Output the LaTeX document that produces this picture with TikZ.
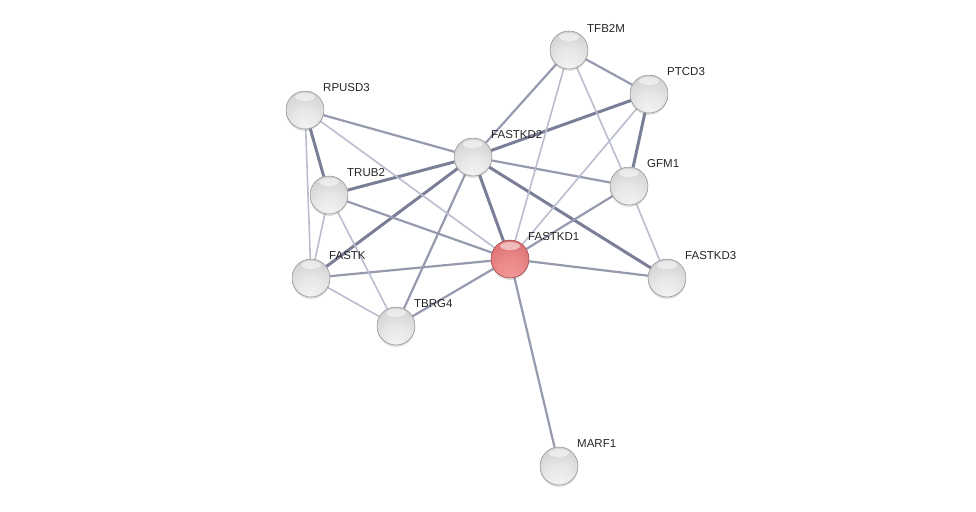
\documentclass[tikz,border=0pt]{standalone}
\usepackage{fontspec}
\setmainfont{Liberation Sans}
\usetikzlibrary{backgrounds,shadows}
\definecolor{EdgeDark}{RGB}{122,126,150}
\definecolor{EdgeMid}{RGB}{150,154,174}
\definecolor{EdgeLight}{RGB}{186,189,206}
\definecolor{RimGray}{RGB}{140,140,140}
\definecolor{RimRed}{RGB}{150,60,62}
\definecolor{RedLow}{RGB}{242,150,150}
\definecolor{RedMid}{RGB}{218,110,112}
\definecolor{RedTop}{RGB}{192,80,84}

\pgfdeclareradialshading{protball}{\pgfpoint{0bp}{-24bp}}{%
  color(0bp)=(gray!10); color(18bp)=(gray!18); color(40bp)=(gray!38);
  color(58bp)=(gray!46); color(80bp)=(gray!50)}
\pgfdeclareradialshading{queryball}{\pgfpoint{0bp}{-24bp}}{%
  color(0bp)=(RedLow); color(18bp)=(RedLow!70!RedMid); color(40bp)=(RedMid);
  color(58bp)=(RedTop); color(80bp)=(RedTop)}

\tikzset{
  prot/.style={circle, minimum size=38pt, inner sep=0pt, shading=protball,
    draw=RimGray, line width=0.5pt,
    drop shadow={shadow xshift=0pt, shadow yshift=-2pt, opacity=0.25},
    path picture={\fill[white, opacity=0.5]
      ([yshift=-6pt]path picture bounding box.north) ellipse (10pt and 4pt);}},
  query/.style={prot, shading=queryball, draw=RimRed},
  lbl/.style={anchor=west, inner sep=0pt, font=\fontsize{11.5}{12}\selectfont, text=black!85},
  thickedge/.style={EdgeDark, line width=3pt},
  midedge/.style={EdgeMid, line width=2.2pt},
  thinedge/.style={EdgeLight, line width=1.6pt}
}

\begin{document}
\begin{tikzpicture}[x=1pt, y=-1pt]
  \useasboundingbox (0,0) rectangle (976,511);

  % --- Proteins (pixel coordinates) ---
  \foreach \n/\x/\y in {TFB2M/569/50, PTCD3/649/94, RPUSD3/305/110,
      FASTKD2/473/157, GFM1/629/186, TRUB2/329/195, FASTKD3/667/278,
      FASTK/311/278, TBRG4/396/326, MARF1/559/466} {
    \node[prot] (\n) at (\x,\y) {};
    \node[lbl] (\n-lbl) at (\x+18,\y-22) {\n};
  }
  \node[query] (FASTKD1) at (510,259) {};
  \node[lbl] (FASTKD1-lbl) at (528,237) {FASTKD1};

  % --- Interactions ---
  \begin{pgfonlayer}{background}
    \foreach \a/\b in {PTCD3/FASTKD2, PTCD3/GFM1, RPUSD3/TRUB2, FASTKD2/TRUB2,
        FASTKD2/FASTKD1, FASTKD2/FASTKD3, FASTKD2/FASTK}
      \draw[thickedge] (\a) -- (\b);
    \foreach \a/\b in {TFB2M/FASTKD2, TFB2M/PTCD3, RPUSD3/FASTKD2, FASTKD2/GFM1,
        FASTKD2/TBRG4, GFM1/FASTKD1, TRUB2/FASTKD1, FASTK/FASTKD1,
        TBRG4/FASTKD1, FASTKD1/FASTKD3, FASTKD1/MARF1}
      \draw[midedge] (\a) -- (\b);
    \foreach \a/\b in {TFB2M/FASTKD1, TFB2M/GFM1, PTCD3/FASTKD1, RPUSD3/FASTK,
        RPUSD3/FASTKD1, GFM1/FASTKD3, TRUB2/FASTK, TRUB2/TBRG4, FASTK/TBRG4}
      \draw[thinedge] (\a) -- (\b);
  \end{pgfonlayer}

\end{tikzpicture}
\end{document}
